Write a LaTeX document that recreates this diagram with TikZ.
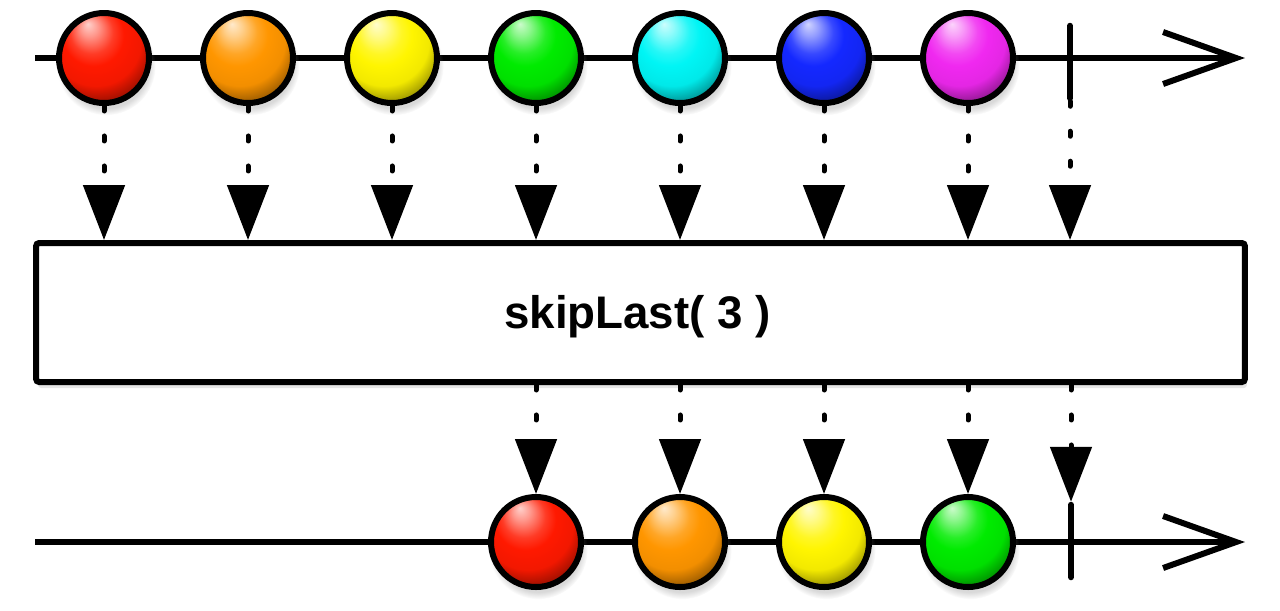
\documentclass[tikz,border=0pt]{standalone}
\usepackage{fontspec}
\newfontfamily\opfont{Liberation Sans}
\usetikzlibrary{arrows.meta,shadows}
\definecolor{mbred}{RGB}{255,25,0}
\definecolor{mborange}{RGB}{255,150,0}
\definecolor{mbyellow}{RGB}{255,245,0}
\definecolor{mbgreen}{RGB}{0,235,0}
\definecolor{mbcyan}{RGB}{0,245,245}
\definecolor{mbblue}{RGB}{20,40,255}
\definecolor{mbmagenta}{RGB}{240,40,240}
\makeatletter
\pgfdeclareradialshading[tikz@ball]{glossy}{\pgfqpoint{-9bp}{19bp}}{%
    color(0bp)=(tikz@ball!20!white); color(5bp)=(tikz@ball!45!white);
    color(12bp)=(tikz@ball!85!white); color(17bp)=(tikz@ball);
    color(25bp)=(tikz@ball!95!black); color(32bp)=(tikz@ball!60!black);
    color(50bp)=(tikz@ball!40!black)}
\makeatother
\begin{document}
\begin{tikzpicture}[x=0.02cm,y=-0.02cm,
    timeline/.style={line width=0.12cm,-{Straight Barb[length=1.46cm,width=1.04cm]}},
    marble/.style={circle,draw,line width=0.12cm,minimum size=1.8cm,inner sep=0pt,ball color=#1,shading=glossy,
        circular drop shadow={shadow xshift=0.04cm,shadow yshift=-0.14cm,opacity=0.3}},
    tick/.style={draw,line width=0.12cm,line join=round,minimum width=0pt,minimum height=1.45cm,inner sep=0pt},
    emit/.style={line width=0.1cm,line cap=round,dash pattern=on 0.1cm off 0.5cm,
        -{Triangle[length=1.1cm,width=0.82cm]}}]
    \useasboundingbox (0,0) rectangle (1280,610);
    \coordinate (in0) at (35,58);
    \coordinate (in1) at (1245,58);
    \coordinate (out0) at (35,542);
    \coordinate (out1) at (1245,542);
    \draw[timeline] (in0) -- (in1);
    \draw[timeline] (out0) -- (out1);
    \node[tick] (t1) at (1070,62) {};
    \node[tick] (t2) at (1071,541) {};
    \foreach \c [count=\i] in {mbred,mborange,mbyellow,mbgreen,mbcyan,mbblue,mbmagenta}
        \node[marble=\c] (a\i) at ({104+144*(\i-1)},58) {};
    \foreach \c [count=\i] in {mbred,mborange,mbyellow,mbgreen}
        \node[marble=\c] (c\i) at ({536+144*(\i-1)},542) {};
    \node[draw,fill=white,line width=0.12cm,rounded corners=0.06cm,minimum width=24.18cm,minimum height=2.78cm,inner sep=0pt,
        drop shadow={shadow xshift=0.04cm,shadow yshift=-0.12cm,opacity=0.2}] (op) at (640.5,312.5) {};
    \node[font=\opfont\bfseries\fontsize{26}{30}\selectfont] (oplabel) at ([xshift=-0.06cm,yshift=-0.08cm]op.center) {skipLast( 3 )};
    \foreach \i in {1,...,7}
        \draw[emit] (a\i) -- (a\i |- op.north);
    \draw[emit] (t1) -- (t1 |- op.north);
    \foreach \i in {1,...,4}
        \draw[emit] (c\i |- op.south) -- (c\i);
    \draw[emit] (t2 |- op.south) -- (t2);
\end{tikzpicture}
\end{document}
